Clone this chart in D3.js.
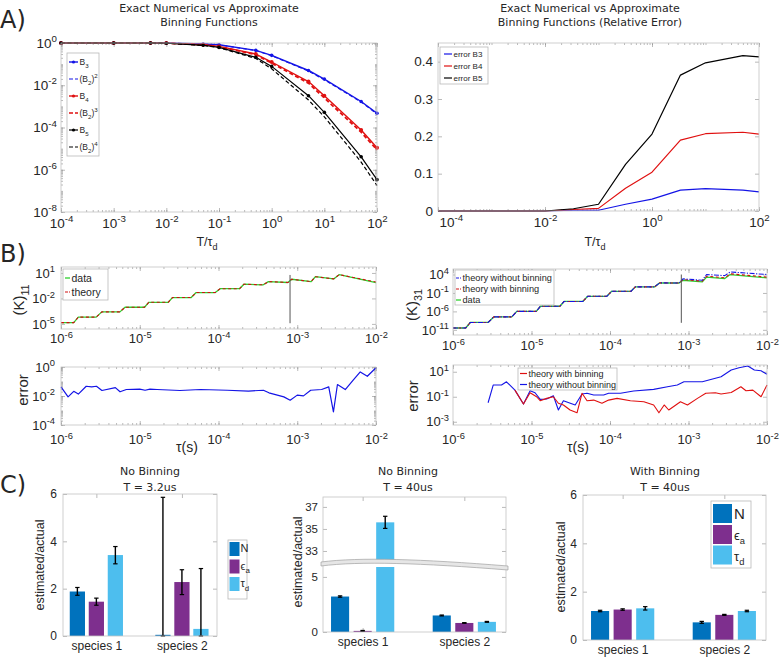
<!DOCTYPE html>
<html><head><meta charset="utf-8">
<script src="https://cdn.jsdelivr.net/npm/d3@7"></script>
<style>body{margin:0;background:#fff} svg{display:block}</style>
</head><body>
<script>
// ================= DATA =================
// Panel A (left): binning functions vs T/tau_d
const xA      = [1e-4, 1e-3, 5e-3, 1e-2, 5e-2, 0.1, 0.5, 1, 5, 10, 50, 100];
const B3      = [1, 1, 1, 0.995, 0.89, 0.83, 0.45, 0.26, 0.05, 0.0195, 0.0017, 4.7e-4];
const B2sq    = [1, 1, 1, 0.995, 0.885, 0.82, 0.44, 0.25, 0.047, 0.0182, 0.0016, 4.4e-4];
const B4      = [1, 1, 1, 0.99, 0.83, 0.69, 0.30, 0.126, 0.015, 0.0032, 7.6e-5, 1.1e-5];
const B2cube  = [1, 1, 1, 0.99, 0.82, 0.67, 0.28, 0.112, 0.0126, 0.0025, 6.0e-5, 8.7e-6];
const B5      = [1, 1, 1, 0.98, 0.78, 0.62, 0.21, 0.078, 0.0032, 5.2e-4, 4.1e-6, 3.4e-7];
const B2quad  = [1, 1, 1, 0.98, 0.77, 0.60, 0.185, 0.060, 0.0020, 3.2e-4, 2.3e-6, 1.8e-7];
// Panel A (right): relative error
const xErr  = [1e-4, 1e-3, 1e-2, 0.034, 0.1, 0.32, 1, 3.4, 10, 50, 100];
const errB3 = [0, 0, 0, 0.002, 0.002, 0.018, 0.032, 0.056, 0.060, 0.056, 0.051];
const errB4 = [0, 0, 0, 0.004, 0.007, 0.061, 0.104, 0.190, 0.207, 0.211, 0.206];
const errB5 = [0, 0, 0, 0.006, 0.018, 0.125, 0.206, 0.364, 0.397, 0.416, 0.413];
// Panel B: multi-tau correlation K vs tau (s)
const tauK = [1e-6,1.45e-6,1.66e-6,2.8e-6,3.3e-6,5.6e-6,6.5e-6,1.15e-5,1.3e-5,2.3e-5,2.6e-5,4.5e-5,5.2e-5,9.1e-5,1.05e-4,1.85e-4,2.1e-4,3.7e-4,4.3e-4,7.6e-4,8.5e-4,1.5e-3,1.7e-3,2.9e-3,3.4e-3,1e-2];
const K11data   = [1.4e-5,1.4e-5,6.3e-5,6.3e-5,2.6e-4,2.6e-4,9.1e-4,9.1e-4,3.5e-3,3.5e-3,0.0126,0.0126,0.049,0.049,0.14,0.14,0.47,0.40,0.95,0.75,1.8,0.95,3.6,1.95,6.3,0.72];
const K11theory = [1.4e-5,1.4e-5,6.3e-5,6.3e-5,2.6e-4,2.6e-4,9.1e-4,9.1e-4,3.5e-3,3.5e-3,0.0126,0.0126,0.049,0.049,0.14,0.14,0.47,0.40,0.95,0.75,1.8,0.95,3.6,2.0,6.3,0.85];
const K31noBin  = [3.2e-11,3.2e-11,1e-9,1e-9,3.2e-8,3.2e-8,1e-6,1e-6,2.5e-5,2.5e-5,5e-4,5e-4,0.0126,0.0126,0.28,0.28,4.5,4.5,55,50,680,280,1e4,5000,5e4,1e4];
const K31bin    = [3.2e-11,3.2e-11,1e-9,1e-9,3.2e-8,3.2e-8,1e-6,1e-6,2.5e-5,2.5e-5,5e-4,5e-4,0.0126,0.0126,0.28,0.28,4.5,4.5,55,50,440,160,3500,1260,1.6e4,2000];
const K31data   = [3.2e-11,3.2e-11,1e-9,1e-9,3.2e-8,3.2e-8,1e-6,1e-6,2.5e-5,2.5e-5,5e-4,5e-4,0.0126,0.0126,0.28,0.28,4.5,4.5,55,50,280,100,2000,800,1e4,1260];
const cutTau = 8.1e-4;
const cutK11 = [1.2e-5, 5.8];
const cutK31 = [8e-10, 1e4];
// error of K11
const tauE11 = [1e-6,1.23e-6,1.45e-6,1.66e-6,2.09e-6,2.45e-6,2.82e-6,3.31e-6,4.9e-6,5.62e-6,6.76e-6,1e-5,1.17e-5,1.35e-5,1.66e-5,3.24e-5,5.89e-5,1.29e-4,2.4e-4,3.72e-4,4.37e-4,6.76e-4,8.13e-4,1e-3,1.2e-3,1.48e-3,2.04e-3,2.51e-3,2.88e-3,3.24e-3,4.07e-3,5.13e-3,6.31e-3,7.76e-3,1e-2];
const err11  = [0.043,0.0087,0.021,0.0135,0.047,0.043,0.047,0.024,0.038,0.0195,0.028,0.030,0.025,0.030,0.028,0.024,0.028,0.025,0.022,0.025,0.0166,0.0087,0.0051,0.0115,0.0102,0.025,0.028,0.043,0.00081,0.062,0.028,0.123,0.457,0.229,0.89];
// error of K31
const tauE31noBin = [2.8e-6,3.25e-6,4.15e-6,4.8e-6,6.15e-6,7.9e-6,9.6e-6,1.11e-5,1.29e-5,1.56e-5,1.9e-5,2.2e-5,2.55e-5,3.6e-5,4.4e-5,5.1e-5,6.2e-5,8.3e-5,9.6e-5,1.36e-4,2.0e-4,3.6e-4,5.4e-4,7.2e-4,8.75e-4,1.5e-3,2.6e-3,3.5e-3,4.4e-3,5.7e-3,6.9e-3,8.4e-3,1e-2];
const err31noBin  = [0.033,0.86,0.86,1.58,0.34,0.026,0.30,0.21,0.062,0.066,0.12,0.0087,0.048,0.022,0.166,0.19,0.137,0.137,0.19,0.19,0.29,0.39,0.63,0.86,1.58,1.58,4.0,13.7,20.9,28.6,13.7,12.0,6.2];
const tauE31bin = [6.15e-6,7.9e-6,9.6e-6,1.16e-5,1.29e-5,1.56e-5,1.9e-5,2.2e-5,2.55e-5,3.1e-5,3.8e-5,4.4e-5,5.1e-5,6.2e-5,7.9e-5,9.6e-5,1.23e-4,1.82e-4,2.7e-4,3.6e-4,4.2e-4,4.9e-4,5.6e-4,7.9e-4,9.7e-4,1.3e-3,1.66e-3,2.2e-3,2.6e-3,3.5e-3,4.65e-3,5.4e-3,6.6e-3,8.4e-3,1e-2];
const err31bin  = [0.34,0.026,0.21,0.10,0.048,0.074,0.10,0.030,0.022,0.0087,0.0052,0.19,0.048,0.054,0.030,0.054,0.074,0.048,0.040,0.022,0.0052,0.022,0.0087,0.040,0.022,0.074,0.19,0.21,0.166,0.22,0.63,0.30,0.34,0.10,0.86];
// Panel C: parameter estimates
const species = ["species 1", "species 2"];
const params  = ["N", "ϵa", "τd"];
const c1Vals = [[1.88, 1.45, 3.42], [0.05, 2.28, 0.30]];
const c1Lo   = [[1.72, 1.30, 3.05], [0.00, 1.75, 0.00]];
const c1Hi   = [[2.05, 1.60, 3.78], [5.86, 2.80, 2.85]];
const c2Vals = [[3.22, 0.10, 35.6], [1.50, 0.82, 0.92]];
const c2Err  = [[0.06, 0.04, 0.55], [0.04, 0.03, 0.04]];
const c3Vals = [[1.20, 1.26, 1.31], [0.73, 1.04, 1.20]];
const c3Err  = [[0.03, 0.03, 0.07], [0.04, 0.02, 0.03]];

// ================= STYLE =================
const FONT = "'Liberation Sans', Arial, Helvetica, sans-serif";
const TFONT = "'DejaVu Sans', sans-serif";
const TXT = "#262626";
const BLUE = "#1414e6", RED = "#e01010", BLACK = "#000", GREEN = "#2ed12e";
const CN = "#0072BD", CE = "#7E2F8E", CT = "#4DBEEE";
const parCol = [CN, CE, CT];

const svg = d3.select("body").append("svg").attr("width", 781).attr("height", 660).style("font-family", FONT);
svg.append("rect").attr("width", 781).attr("height", 660).attr("fill", "#fff");

function rich(t, parts, fs) {
  let cur = 0;
  parts.forEach(([s, lvl]) => {
    const off = lvl === 1 ? fs * 0.32 : lvl === -1 ? -fs * 0.42 : 0;
    const sp = t.append("tspan").text(s);
    if (off - cur !== 0) sp.attr("dy", off - cur);
    if (lvl !== 0) sp.attr("font-size", fs * 0.72);
    cur = off;
  });
}
function label(x, y, parts, o = {}) {
  const fs = o.fs || 12;
  const t = svg.append("text").attr("x", x).attr("y", y).attr("font-size", fs)
    .attr("text-anchor", o.anchor || "middle").attr("fill", o.fill || TXT)
    .attr("font-family", o.font || FONT);
  if (o.rotate) t.attr("transform", `rotate(-90,${x},${y})`);
  if (typeof parts === "string") t.text(parts); else rich(t, parts, fs);
  return t;
}
function supLabels(sel, fs) {
  sel.each(function (d) {
    const e = Math.round(Math.log10(d));
    const t = d3.select(this); t.text(null);
    rich(t, [["10", 0], [String(e), -1]], fs);
  });
}
function axis(g, orient, scale, pos, ticks, o = {}) {
  const gen = { bottom: d3.axisBottom, top: d3.axisTop, left: d3.axisLeft, right: d3.axisRight }[orient];
  const ax = gen(scale).tickValues(ticks).tickSizeInner(-(o.size ?? 4)).tickSizeOuter(0).tickPadding(o.pad ?? 5);
  if (!o.labels) ax.tickFormat(() => "");
  else if (o.fmt) ax.tickFormat(o.fmt);
  const tr = (orient === "bottom" || orient === "top") ? `translate(0,${pos})` : `translate(${pos},0)`;
  const a = g.append("g").attr("transform", tr).call(ax);
  a.select(".domain").remove();
  a.selectAll(".tick line").attr("stroke", "#8c8c8c").attr("stroke-width", 0.6);
  a.selectAll(".tick text").attr("font-size", o.fs || 13).attr("fill", TXT).attr("font-family", FONT);
  if (o.labels && o.sup) supLabels(a.selectAll(".tick text"), o.fs || 13);
  return a;
}
function minor(scale) {
  const [a, b] = scale.domain(), out = [];
  for (let e = Math.floor(Math.log10(a)); e <= Math.ceil(Math.log10(b)); e++)
    for (let m = 1; m < 10; m++) { const v = m * Math.pow(10, e); if (v >= a * 0.999 && v <= b * 1.001) out.push(v); }
  return out;
}
function frame(x, y, o) {
  const g = svg.append("g");
  const [x0, x1] = x.range(), [y0, y1] = y.range();
  g.append("rect").attr("x", x0).attr("y", y1).attr("width", x1 - x0).attr("height", y0 - y1).attr("fill", "#fff");
  if (o.xMinor) { axis(g, "bottom", x, y0, minor(x), { size: 2 }); axis(g, "top", x, y1, minor(x), { size: 2 }); }
  if (o.yMinor) { axis(g, "left", y, x0, minor(y), { size: 2 }); axis(g, "right", y, x1, minor(y), { size: 2 }); }
  const xa = axis(g, "bottom", x, y0, o.xTicks, { labels: true, fs: o.fs, pad: o.xPad, sup: o.xLog, fmt: o.xFmt });
  axis(g, "top", x, y1, o.xTicks, {});
  axis(g, "left", y, x0, o.yTicks, { labels: true, fs: o.fs, pad: o.yPad ?? 5, sup: o.yLog, fmt: o.yFmt });
  axis(g, "right", y, x1, o.yTicks, {});
  return xa;
}
function border(x, y) {
  const [x0, x1] = x.range(), [y0, y1] = y.range();
  svg.append("rect").attr("x", x0).attr("y", y1).attr("width", x1 - x0).attr("height", y0 - y1)
    .attr("fill", "none").attr("stroke", "#c4c4c4").attr("stroke-width", 0.8);
}
function path(x, y, xs, ys, o) {
  const pts = xs.map((v, i) => [v, ys[i]]);
  const p = svg.append("path").datum(pts).attr("fill", "none").attr("stroke", o.color)
    .attr("stroke-width", o.w || 1).attr("stroke-linejoin", "round")
    .attr("d", d3.line().x(d => x(d[0])).y(d => y(d[1])));
  if (o.dash) p.attr("stroke-dasharray", o.dash);
  if (o.marker) svg.append("g").selectAll("circle").data(pts).join("circle")
    .attr("cx", d => x(d[0])).attr("cy", d => y(d[1])).attr("r", o.marker).attr("fill", o.color);
}
function legendBox(x0, y0, w, h) {
  svg.append("rect").attr("x", x0).attr("y", y0).attr("width", w).attr("height", h)
    .attr("fill", "#fff").attr("stroke", "#b8b8b8").attr("stroke-width", 0.8);
}
function legendItem(x, y, len, o, parts, fs) {
  const l = svg.append("line").attr("x1", x).attr("x2", x + len).attr("y1", y).attr("y2", y)
    .attr("stroke", o.color).attr("stroke-width", o.w || 1);
  if (o.dash) l.attr("stroke-dasharray", o.dash);
  if (o.marker) svg.append("circle").attr("cx", x + len / 2).attr("cy", y).attr("r", o.marker).attr("fill", o.color);
  label(x + len + 1.5, y + fs * 0.35, parts, { fs, anchor: "start" });
}

// ================= PANEL A =================
label(0, 28, "A)", { fs: 24, anchor: "start", font: TFONT });
// A-left
{
  const x = d3.scaleLog().domain([1e-4, 1e2]).range([61, 377]);
  const y = d3.scaleLog().domain([1e-8, 1]).range([212, 43]);
  frame(x, y, { xTicks: [1e-4,1e-3,1e-2,1e-1,1,10,100], yTicks: [1e-8,1e-6,1e-4,1e-2,1], xLog: true, yLog: true, fs: 13.5, xPad: 6, yPad: 4, xMinor: true, yMinor: true });
  path(x, y, xA, B2sq, { color: BLUE, dash: "4,2.5", w: 1.2 });
  path(x, y, xA, B3, { color: BLUE, w: 1.4, marker: 1.8 });
  path(x, y, xA, B2cube, { color: RED, dash: "4,2.5", w: 1.8 });
  path(x, y, xA, B4, { color: RED, w: 1.4, marker: 2 });
  path(x, y, xA, B2quad, { color: BLACK, dash: "4,2.5", w: 1.2 });
  path(x, y, xA, B5, { color: BLACK, w: 1.2, marker: 1.8 });
  border(x, y);
  legendBox(67, 53, 32, 103);
  const fs = 8.5;
  legendItem(69, 62, 9, { color: BLUE, w: 1.4, marker: 1.6 }, [["B",0],["3",1]], fs);
  legendItem(69, 79, 9, { color: BLUE, dash: "4,2", w: 1.2 }, [["(B",0],["2",1],[")",0],["2",-1]], fs);
  legendItem(69, 96, 9, { color: RED, w: 1.4, marker: 1.6 }, [["B",0],["4",1]], fs);
  legendItem(69, 113, 9, { color: RED, dash: "4,2", w: 1.6 }, [["(B",0],["2",1],[")",0],["3",-1]], fs);
  legendItem(69, 130, 9, { color: BLACK, w: 1.2, marker: 1.6 }, [["B",0],["5",1]], fs);
  legendItem(69, 147, 9, { color: BLACK, dash: "4,2", w: 1.2 }, [["(B",0],["2",1],[")",0],["4",-1]], fs);
  label(209, 12, "Exact Numerical vs Approximate", { fs: 11, font: TFONT });
  label(209, 26, "Binning Functions", { fs: 11, font: TFONT });
  label(207, 246, [["T/τ",0],["d",1]], { fs: 12.5 });
}
// A-right
{
  const x = d3.scaleLog().domain([1e-4, 1e2]).range([438, 759]);
  const y = d3.scaleLinear().domain([0, 0.45]).range([211, 43]);
  const xa = frame(x, y, { xTicks: [1e-4,1e-2,1,100], yTicks: [0,0.1,0.2,0.3,0.4], xLog: true, fs: 13.5, xPad: 6, yPad: 5, yFmt: d => d === 0 ? "0" : d3.format(".1f")(d), xMinor: true });
  // first x label sits right of its tick, as in the reference
  xa.selectAll(".tick text").filter(d => d === 1e-4).attr("text-anchor", "start").attr("x", 1);
  path(x, y, xErr, errB3, { color: BLUE, w: 1.2 });
  path(x, y, xErr, errB4, { color: RED, w: 1.2 });
  path(x, y, xErr, errB5, { color: BLACK, w: 1.2 });
  border(x, y);
  legendBox(440, 47, 48, 37);
  legendItem(444, 54, 8, { color: BLUE, w: 1.2 }, "error B3", 8);
  legendItem(444, 66, 8, { color: RED, w: 1.2 }, "error B4", 8);
  legendItem(444, 78, 8, { color: BLACK, w: 1.2 }, "error B5", 8);
  label(590, 12, "Exact Numerical vs Approximate", { fs: 11, font: TFONT });
  label(590, 26, "Binning Functions (Relative Error)", { fs: 11, font: TFONT });
  label(595, 246, [["T/τ",0],["d",1]], { fs: 12.5 });
}

// ================= PANEL B =================
label(0, 262, "B)", { fs: 24, anchor: "start", font: TFONT });
const tauTicks = [1e-6, 1e-5, 1e-4, 1e-3, 1e-2];
// B-left top
{
  const x = d3.scaleLog().domain([1e-6, 1e-2]).range([61, 376]);
  const y = d3.scaleLog().domain([Math.pow(10, -5.6), Math.pow(10, 1.7)]).range([329, 267]);
  frame(x, y, { xTicks: tauTicks, yTicks: [1e-5, 1e-2, 10], xLog: true, yLog: true, fs: 13, xPad: 5, yPad: 6, xMinor: true });
  path(x, y, tauK, K11data, { color: GREEN, w: 1.3 });
  path(x, y, tauK, K11theory, { color: "#d01010", dash: "3,2.5", w: 1.1 });
  svg.append("line").attr("x1", x(cutTau)).attr("x2", x(cutTau)).attr("y1", y(cutK11[0])).attr("y2", y(cutK11[1])).attr("stroke", "#555").attr("stroke-width", 1);
  border(x, y);
  legendBox(63, 269, 45, 31);
  legendItem(65, 278, 5, { color: GREEN, w: 1.3 }, "data", 10.5);
  legendItem(65, 292, 5, { color: "#d01010", dash: "3,1", w: 1.2 }, "theory", 10.5);
  label(24, 300, [["(K)",0],["11",1]], { fs: 15, rotate: true });
}
// B-left bottom
{
  const x = d3.scaleLog().domain([1e-6, 1e-2]).range([61, 376]);
  const y = d3.scaleLog().domain([1e-4, 1]).range([425, 367]);
  frame(x, y, { xTicks: tauTicks, yTicks: [1e-4, 1e-2, 1], xLog: true, yLog: true, fs: 13, xPad: 10, yPad: 6, xMinor: true, yMinor: true });
  path(x, y, tauE11, err11, { color: BLUE, w: 1.2 });
  border(x, y);
  label(28, 390, "error", { fs: 15, rotate: true });
  label(187, 452, "τ(s)", { fs: 14 });
}
// B-right top
{
  const x = d3.scaleLog().domain([1e-6, 1e-2]).range([453, 767]);
  const y = d3.scaleLog().domain([Math.pow(10, -12.4), Math.pow(10, 5.5)]).range([335, 269]);
  frame(x, y, { xTicks: tauTicks, yTicks: [1e-11, 1e-6, 1e-1, 1e4], xLog: true, yLog: true, fs: 13, xPad: 6, yPad: 4, xMinor: true });
  path(x, y, tauK, K31data, { color: GREEN, w: 1.3 });
  path(x, y, tauK, K31bin, { color: "#d01010", dash: "3,2.5", w: 1.1 });
  path(x, y, tauK, K31noBin, { color: BLUE, dash: "5,1.5,1.2,1.5", w: 1.1 });
  svg.append("line").attr("x1", x(cutTau)).attr("x2", x(cutTau)).attr("y1", y(cutK31[0])).attr("y2", y(cutK31[1])).attr("stroke", "#555").attr("stroke-width", 1);
  border(x, y);
  legendBox(455, 270, 99, 35);
  legendItem(456, 278, 5, { color: BLUE, dash: "3,1", w: 1.2 }, "theory without binning", 9.2);
  legendItem(456, 289, 5, { color: "#d01010", dash: "3,1", w: 1.2 }, "theory with binning", 9.2);
  legendItem(456, 300, 5, { color: GREEN, w: 1.3 }, "data", 9.2);
  label(417, 305, [["(K)",0],["31",1]], { fs: 15, rotate: true });
}
// B-right bottom
{
  const x = d3.scaleLog().domain([1e-6, 1e-2]).range([453, 767]);
  const y = d3.scaleLog().domain([Math.pow(10, -3.26), Math.pow(10, 1.54)]).range([425, 365]);
  frame(x, y, { xTicks: tauTicks, yTicks: [1e-3, 1e-1, 10], xLog: true, yLog: true, fs: 13, xPad: 10, yPad: 4, xMinor: true });
  path(x, y, tauE31noBin, err31noBin, { color: BLUE, w: 1.1 });
  path(x, y, tauE31bin, err31bin, { color: RED, w: 1.1 });
  border(x, y);
  legendBox(518, 368, 99, 22);
  legendItem(520, 373.5, 7, { color: RED, w: 1.2 }, "theory with binning", 9);
  legendItem(520, 384.5, 7, { color: BLUE, w: 1.2 }, "theory without binning", 9);
  label(418, 396, "error", { fs: 15, rotate: true });
  label(578, 452, "τ(s)", { fs: 14 });
}

// ================= PANEL C =================
label(0, 493, "C)", { fs: 24, anchor: "start", font: TFONT });
const off = [-0.222, 0, 0.222], bw = 0.178;
function errBar(cx, y1, y2) {
  svg.append("line").attr("x1", cx).attr("x2", cx).attr("y1", y1).attr("y2", y2).attr("stroke", "#000").attr("stroke-width", 1.4);
  [y1, y2].forEach(yy => svg.append("line").attr("x1", cx - 2.2).attr("x2", cx + 2.2).attr("y1", yy).attr("y2", yy).attr("stroke", "#000").attr("stroke-width", 1.2));
}
function bars(x, y, vals, lo, hi) {
  vals.forEach((row, gi) => row.forEach((v, pi) => {
    const cx = gi + 1 + off[pi];
    const xl = x(cx - bw / 2), xr = x(cx + bw / 2);
    svg.append("rect").attr("x", xl).attr("width", xr - xl).attr("y", y(v)).attr("height", y(0) - y(v)).attr("fill", parCol[pi]);
    errBar(x(cx), y(lo[gi][pi]), y(hi[gi][pi]));
  }));
}
const spFmt = d => species[d - 1];
// C-left
{
  const x = d3.scaleLinear().domain([0.61, 2.41]).range([63, 217]);
  const y = d3.scaleLinear().domain([0, 6]).range([636, 494]);
  frame(x, y, { xTicks: [1, 2], yTicks: [0, 2, 4, 6], fs: 12, xPad: 5, yPad: 6, xFmt: spFmt, yFmt: d3.format("d") });
  bars(x, y, c1Vals, c1Lo, c1Hi);
  border(x, y);
  label(150, 475, "No Binning", { fs: 11, font: TFONT });
  label(150, 491, "T = 3.2us", { fs: 11, font: TFONT });
  label(44, 565, "estimated/actual", { fs: 12.5, rotate: true });
  legendBox(228, 540, 19, 59);
  [[CN, 542, [["N",0]]], [CE, 559.5, [["ϵ",0],["a",1]]], [CT, 577, [["τ",0],["d",1]]]].forEach(([c, yy, p]) => {
    svg.append("rect").attr("x", 229.5).attr("y", yy).attr("width", 10).attr("height", 14).attr("fill", c);
    label(240.5, yy + 10, p, { fs: 11, anchor: "start" });
  });
}
// C-middle (broken axis)
{
  const x = d3.scaleLinear().domain([0.61, 2.41]).range([323, 506]);
  const yUp = d3.scaleLinear().domain([32, 37.9]).range([562, 497]);
  const yLo = d3.scaleLinear().domain([0, 5.9]).range([632, 567]);
  const g = svg.append("g");
  g.append("rect").attr("x", 323).attr("y", 497).attr("width", 183).attr("height", 135).attr("fill", "#fff");
  axis(g, "bottom", x, 632, [1, 2], { labels: true, fs: 12, pad: 5, fmt: spFmt });
  axis(g, "top", x, 497, [1, 2], {});
  axis(g, "left", yUp, 323, [33, 35, 37], { labels: true, fs: 11.5, pad: 5, fmt: d3.format("d") });
  axis(g, "right", yUp, 506, [33, 35, 37], {});
  axis(g, "left", yLo, 323, [0, 5], { labels: true, fs: 11.5, pad: 5, fmt: d3.format("d") });
  axis(g, "right", yLo, 506, [0, 5], {});
  c2Vals.forEach((row, gi) => row.forEach((v, pi) => {
    const cx = gi + 1 + off[pi];
    const xl = x(cx - bw / 2), xr = x(cx + bw / 2);
    if (v <= 5.9) {
      svg.append("rect").attr("x", xl).attr("width", xr - xl).attr("y", yLo(v)).attr("height", yLo(0) - yLo(v)).attr("fill", parCol[pi]);
      errBar(x(cx), yLo(v - c2Err[gi][pi]), yLo(v + c2Err[gi][pi]));
    } else {
      svg.append("rect").attr("x", xl).attr("width", xr - xl).attr("y", yLo(5.9)).attr("height", yLo(0) - yLo(5.9)).attr("fill", parCol[pi]);
      svg.append("rect").attr("x", xl).attr("width", xr - xl).attr("y", yUp(v)).attr("height", yUp(32) - yUp(v)).attr("fill", parCol[pi]);
      errBar(x(cx), yUp(v - c2Err[gi][pi]), yUp(v + c2Err[gi][pi]));
    }
  }));
  svg.append("rect").attr("x", 323).attr("y", 497).attr("width", 183).attr("height", 135).attr("fill", "none").attr("stroke", "#c4c4c4").attr("stroke-width", 0.8);
  svg.append("path").attr("d", "M321,562 C360,557 420,559 508,566 L508,570 C420,563 360,561 321,566 Z")
    .attr("fill", "#e6e6e6").attr("stroke", "#a0a0a0").attr("stroke-width", 0.7);
  label(408, 475, "No Binning", { fs: 11, font: TFONT });
  label(408, 491, "T = 40us", { fs: 11, font: TFONT });
  label(302, 562, "estimated/actual", { fs: 12.5, rotate: true });
}
// C-right
{
  const x = d3.scaleLinear().domain([0.61, 2.41]).range([583, 766]);
  const y = d3.scaleLinear().domain([0, 6]).range([640, 495]);
  frame(x, y, { xTicks: [1, 2], yTicks: [0, 2, 4, 6], fs: 12, xPad: 5, yPad: 6, xFmt: spFmt, yFmt: d3.format("d") });
  bars(x, y, c3Vals, c3Vals.map((r, i) => r.map((v, j) => v - c3Err[i][j])), c3Vals.map((r, i) => r.map((v, j) => v + c3Err[i][j])));
  border(x, y);
  label(665, 475, "With Binning", { fs: 11, font: TFONT });
  label(665, 491, "T = 40us", { fs: 11, font: TFONT });
  label(565, 567, "estimated/actual", { fs: 12.5, rotate: true });
  legendBox(711, 501, 40, 67);
  [[CN, 504, [["N",0]], 15], [CE, 525, [["ϵ",0],["a",1]], 13], [CT, 545.5, [["τ",0],["d",1]], 13]].forEach(([c, yy, p, fs]) => {
    svg.append("rect").attr("x", 713).attr("y", yy).attr("width", 19).attr("height", 19).attr("fill", c);
    label(734, yy + 15, p, { fs, anchor: "start" });
  });
}
</script>
</body></html>
